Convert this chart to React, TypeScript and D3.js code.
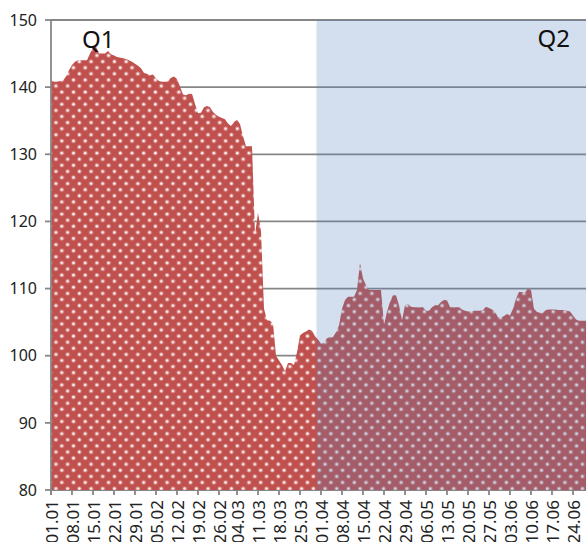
import React from "react";
import * as d3 from "d3";

// Daily index values, 2013-01-01 .. 2013-06-30
const janValues = [141, 140.8, 140.8, 140.9, 141, 141.6, 142.5, 143.3, 143.8, 144, 144, 144, 144, 145, 145.9, 146, 145, 145, 145, 145.4, 144.9, 144.7, 144.5, 144.4, 144.3, 144.2, 144, 143.8, 143.5, 143.2, 142.8];
const febValues = [142.1, 142, 141.8, 141.9, 141.3, 140.9, 140.8, 140.8, 140.9, 141.4, 141.6, 141.2, 140.1, 138.9, 138.8, 139, 139, 137.5, 136.1, 136.2, 137, 137.2, 137, 136.3, 135.9, 135.6, 135.4, 135.2];
const marValues = [134.6, 134.2, 134.8, 135.1, 134.5, 132.7, 131.2, 131.2, 131.2, 118, 121.3, 118.5, 107, 105.3, 105.2, 104.8, 100, 99.3, 98.6, 97.7, 98.9, 98.9, 98.6, 100.5, 103, 103.4, 103.6, 103.9, 103.7, 102.9, 102.4];
const aprValues = [101.8, 101.9, 102.6, 102.8, 102.8, 103.5, 104.5, 107, 108.3, 108.8, 108.8, 108.8, 109.8, 113.8, 111.5, 110.5, 109.8, 109.8, 109.8, 109.8, 109.8, 104.6, 106.6, 108, 109, 109, 107.5, 105.3, 107.5, 107.7];
const mayValues = [107.3, 107.2, 107.2, 107.2, 107.2, 106.7, 106.7, 107.2, 107.5, 107.5, 108, 108.3, 108.3, 107.2, 107.2, 107.2, 107.2, 106.9, 106.7, 106.6, 106.6, 106.7, 106.7, 106.7, 106.8, 107.3, 107.1, 106.9, 106.6, 105.7, 105.7];
const junValues = [105.9, 106.2, 106, 107, 108.5, 109.5, 109.5, 109.4, 110, 109.8, 107, 106.5, 106.4, 106.4, 106.8, 106.9, 106.9, 106.9, 106.8, 106.8, 106.8, 106.7, 106.6, 106, 105.4, 105.2, 105.2, 105.2, 105.2, 105.2];

const xTickLabels = ["01.01", "08.01", "15.01", "22.01", "29.01", "05.02", "12.02", "19.02", "26.02", "04.03", "11.03", "18.03", "25.03", "01.04", "08.04", "15.04", "22.04", "29.04", "06.05", "13.05", "20.05", "27.05", "03.06", "10.06", "17.06", "24.06"];
const yTicks = [80, 90, 100, 110, 120, 130, 140, 150];
const quarterLabels = ["Q1", "Q2"];
const q2Start = "30.03";
const year = 2013;

const values = [...janValues, ...febValues, ...marValues, ...aprValues, ...mayValues, ...junValues];

const W = 586;
const H = 542;
const left = 51;
const top = 20;
const bottom = 490;
const dayPx = 3;

const start = new Date(year, 0, 1);
const parse = d3.timeParse("%d.%m.%Y");
const dayIndex = (s: string) => d3.timeDay.count(start, parse(`${s}.${year}`) as Date);

export default function App() {
  const n = values.length;
  const x = d3.scaleLinear().domain([0, n - 1]).range([left, left + (n - 1) * dayPx]);
  const y = d3.scaleLinear().domain([80, 150]).range([bottom, top]);

  const area = d3
    .area<number>()
    .x((_, i) => x(i))
    .y0(y(80))
    .y1((d) => y(d))
    .curve(d3.curveLinear);

  const q2x = x(dayIndex(q2Start) + 0.5);
  const right = x(n - 1);
  const font = "'Noto Sans', 'Open Sans', sans-serif";
  const grid = "#868686";

  return (
    <svg
      width={W}
      height={H}
      style={{ position: "absolute", left: 0, top: 0, display: "block", background: "#fff" }}
    >
      <defs>
        <pattern id="dots" patternUnits="userSpaceOnUse" width={11.7} height={12.2}>
          <rect width={11.7} height={12.2} fill="#c0504d" />
          <circle cx={3.3} cy={6.7} r={2.3} fill="#fff" opacity={0.3} />
          <circle cx={3.3} cy={6.7} r={1.2} fill="#fff" opacity={0.95} />
          <circle cx={9.15} cy={0.6} r={2.3} fill="#fff" opacity={0.3} />
          <circle cx={9.15} cy={0.6} r={1.2} fill="#fff" opacity={0.95} />
          <circle cx={9.15} cy={12.8} r={2.3} fill="#fff" opacity={0.3} />
          <circle cx={9.15} cy={12.8} r={1.2} fill="#fff" opacity={0.95} />
        </pattern>
        <clipPath id="plot">
          <rect x={left} y={top} width={right - left} height={bottom - top} />
        </clipPath>
      </defs>

      {yTicks.map((t) => (
        <line key={"g" + t} x1={left} x2={right} y1={y(t)} y2={y(t)} stroke={grid} strokeWidth={1.8} />
      ))}

      <path d={area(values) || ""} fill="url(#dots)" clipPath="url(#plot)" />

      <rect x={q2x} y={top} width={right - q2x} height={bottom - top} fill="rgb(79,129,189)" fillOpacity={0.25} />

      <line x1={left} x2={left} y1={top} y2={bottom + 5} stroke={grid} strokeWidth={1.8} />
      {yTicks.map((t) => (
        <g key={"y" + t}>
          <line x1={left - 6} x2={left} y1={y(t)} y2={y(t)} stroke={grid} strokeWidth={1.8} />
          <text
            x={37}
            y={y(t)}
            dy="0.36em"
            textAnchor="end"
            fontFamily={font}
            fontSize={16}
            fill="#222"
          >
            {t}
          </text>
        </g>
      ))}

      {xTickLabels.map((lab) => {
        const xi = x(dayIndex(lab));
        return (
          <g key={lab}>
            <line x1={xi} x2={xi} y1={bottom} y2={bottom + 5} stroke={grid} strokeWidth={1.8} />
            <text
              transform={`translate(${xi + 1},500) rotate(-90)`}
              textAnchor="end"
              dy="0.36em"
              fontFamily={font}
              fontSize={17}
              fill="#222"
            >
              {lab}
            </text>
          </g>
        );
      })}

      <text x={x(10.3)} y={48} fontFamily={font} fontSize={24} fill="#111">
        {quarterLabels[0]}
      </text>
      <text x={x(173)} y={47} textAnchor="end" fontFamily={font} fontSize={24} fill="#111">
        {quarterLabels[1]}
      </text>
    </svg>
  );
}
